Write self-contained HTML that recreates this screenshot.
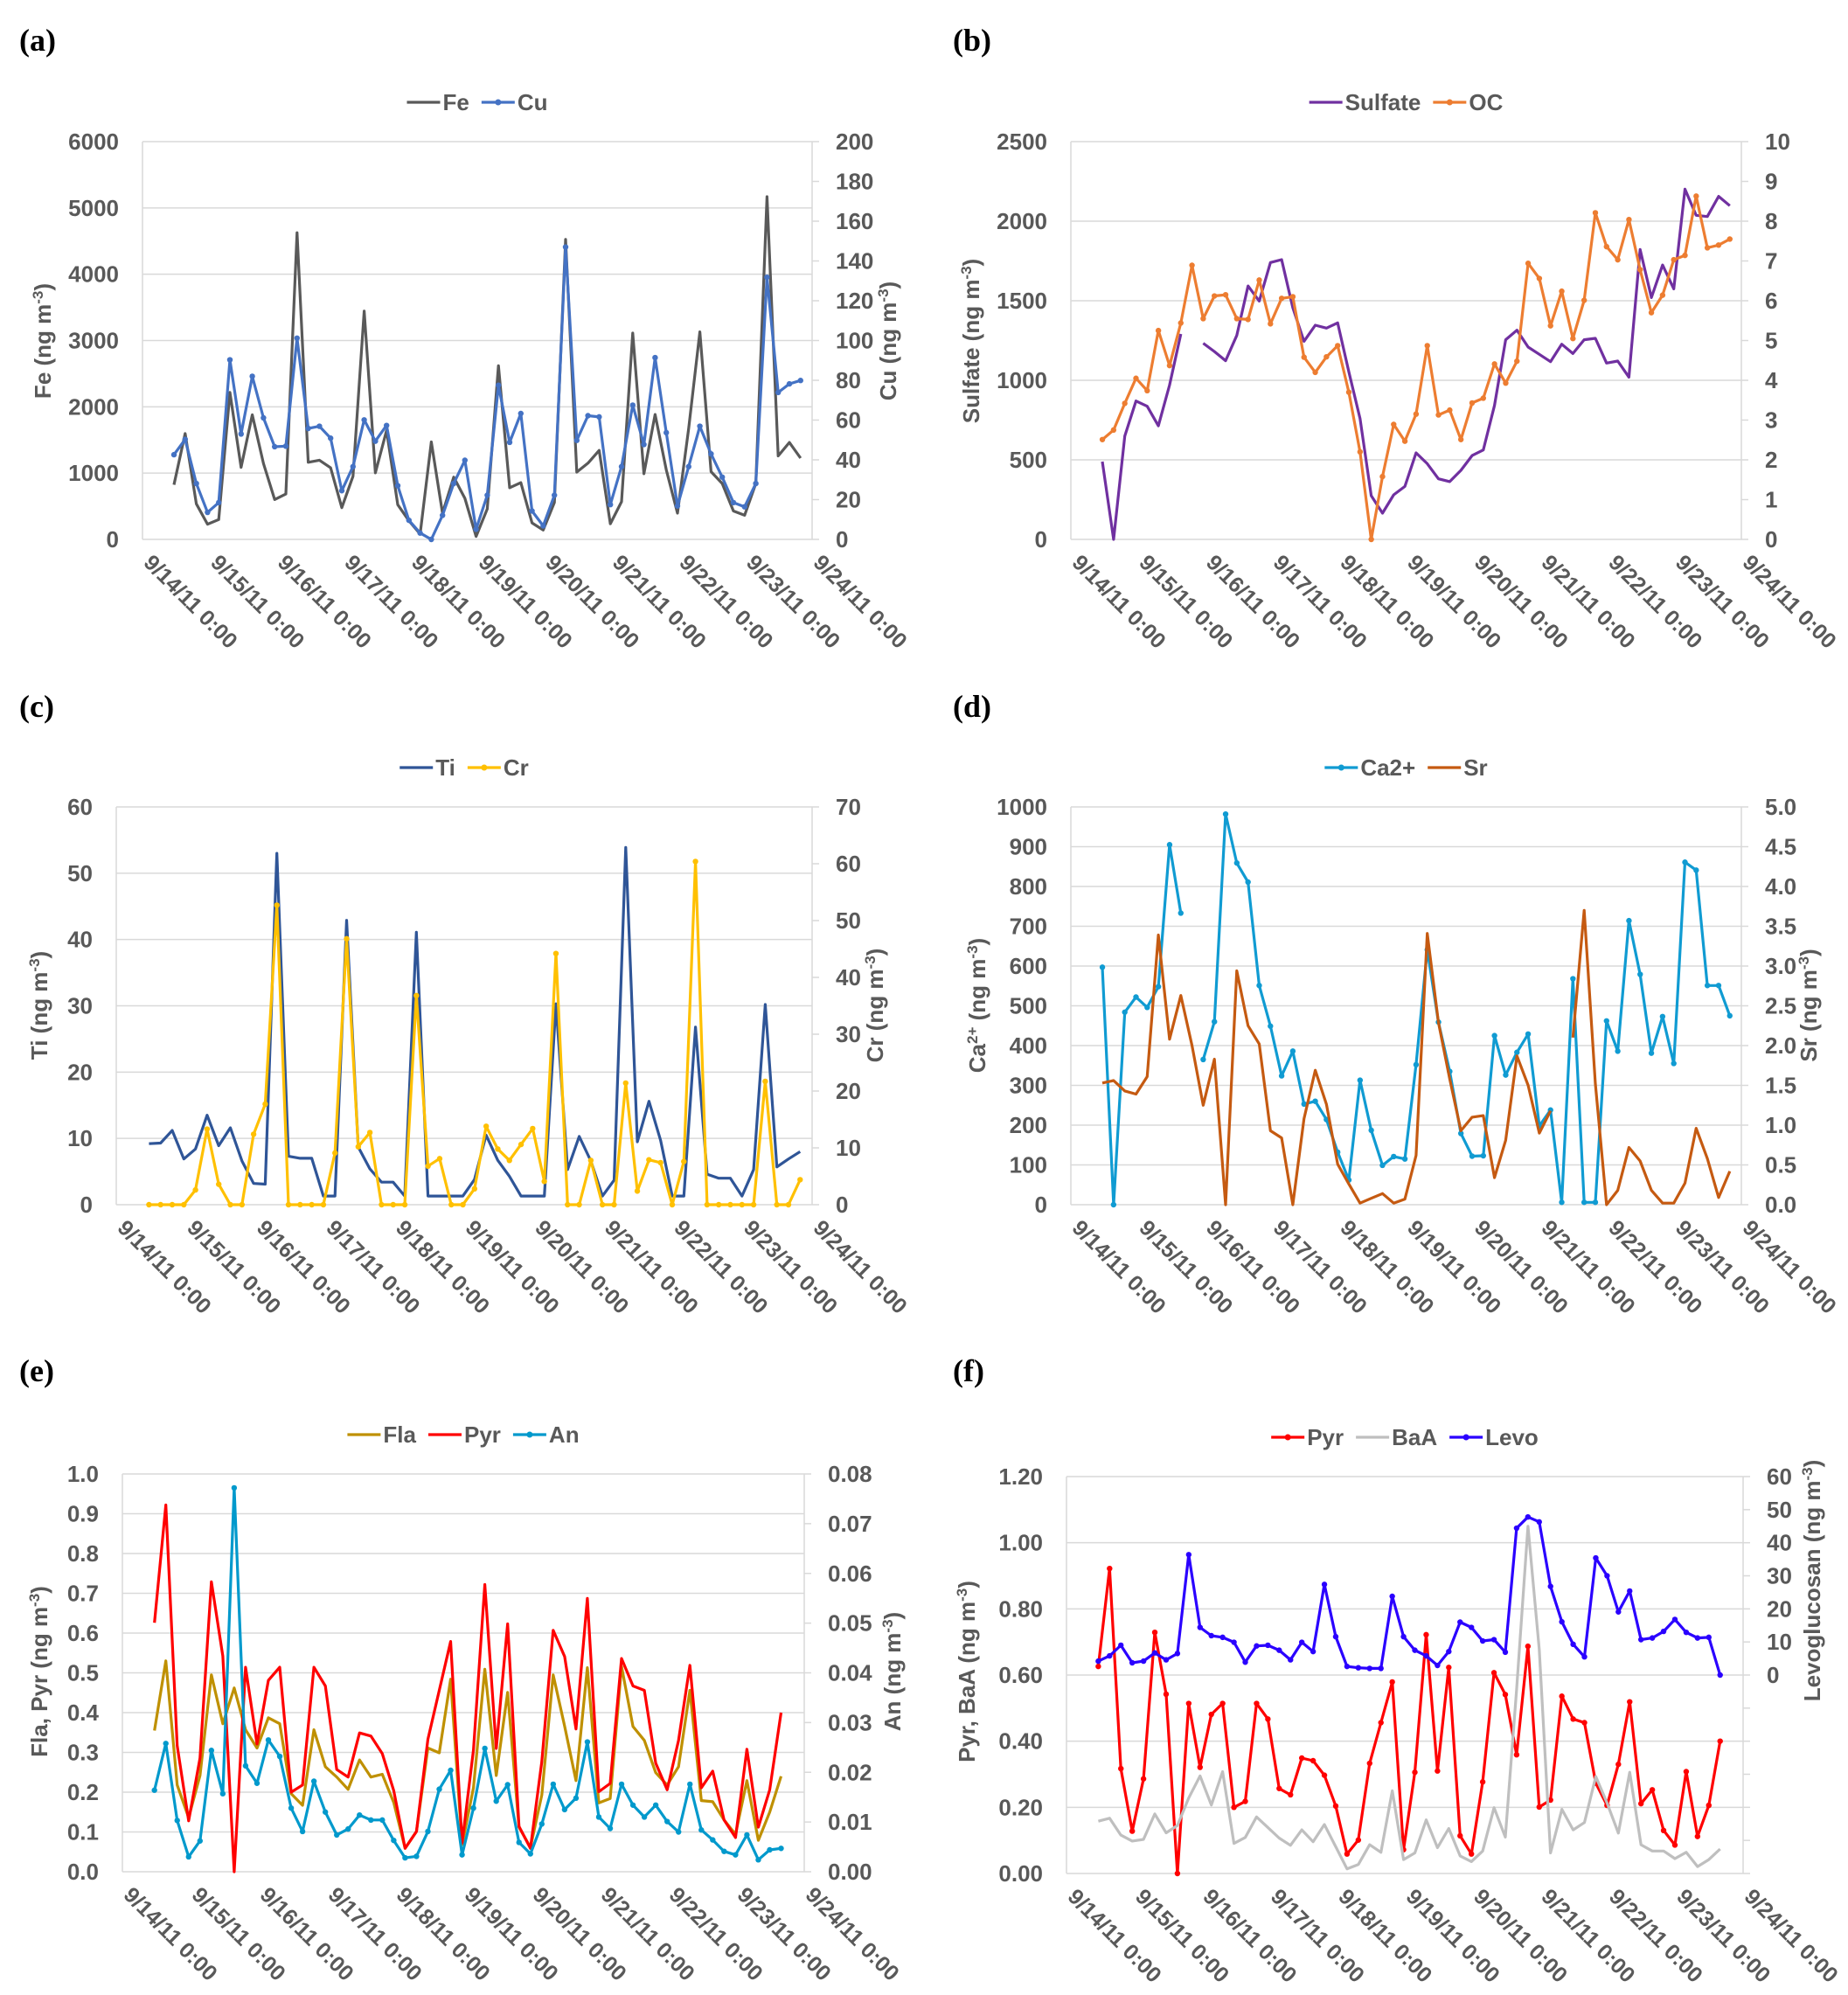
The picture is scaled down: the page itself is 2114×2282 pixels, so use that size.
<!DOCTYPE html>
<html><head><meta charset="utf-8"><style>
html,body{margin:0;padding:0;background:#fff;}
svg{display:block;}
text{font-family:"Liberation Sans",sans-serif;}
text.serif{font-family:"Liberation Serif",serif;}
</style></head><body>
<svg id="root" xmlns="http://www.w3.org/2000/svg" width="2114" height="2282" viewBox="0 0 2114 2282"></svg>
<script>
const dateLabels = ["9/14/11 0:00","9/15/11 0:00","9/16/11 0:00","9/17/11 0:00","9/18/11 0:00","9/19/11 0:00","9/20/11 0:00","9/21/11 0:00","9/22/11 0:00","9/23/11 0:00","9/24/11 0:00"];
const feVals = [824,1597,537,230,300,2217,1086,1879,1144,601,684,4626,1163,1195,1080,479,952,3444,1003,1642,524,281,80,1470,396,939,620,45,460,2620,780,856,249,141,556,4524,1016,1150,1342,236,569,3112,990,1885,1048,396,1674,3131,1022,843,428,364,843,5169,1259,1463,1227];
const cuVals = [42.6,50.3,28.1,13.6,18.5,90.3,53.0,82.0,61.1,46.6,46.9,101.2,55.8,56.9,50.9,24.5,36.6,60.1,49.4,57.3,27.0,9.6,3.2,0,12.1,28.1,39.8,5.1,22.2,77.5,48.8,63.3,14.3,6.8,22.2,147,49.8,62.2,61.6,17.5,36.6,67.5,47.7,91.4,53.7,16.8,36.6,56.9,43.0,31.3,18.5,16.4,28.1,131.8,73.9,78.2,79.9];
const sulfateVals = [489,0,650,870,837,714,970,1291,null,1233,1181,1123,1282,1593,1498,1740,1758,1456,1245,1346,1328,1361,1053,760,275,165,280,333,544,476,381,363,434,527,562,842,1255,1315,1209,1163,1117,1227,1168,1255,1264,1108,1121,1020,1822,1520,1725,1575,2201,2037,2029,2156,2097];
const ocVals = [2.51,2.75,3.42,4.05,3.74,5.25,4.37,5.44,6.89,5.55,6.12,6.15,5.55,5.53,6.52,5.42,6.06,6.10,4.58,4.20,4.59,4.87,3.70,2.20,0,1.58,2.89,2.47,3.15,4.87,3.13,3.25,2.51,3.43,3.55,4.41,3.93,4.48,6.94,6.56,5.37,6.24,5.05,6.01,8.21,7.36,7.03,8.04,6.78,5.70,6.14,7.03,7.14,8.63,7.33,7.40,7.55];
const tiVals = [9.2,9.3,11.2,6.9,8.4,13.5,8.9,11.6,6.6,3.2,3.1,53,7.3,7.0,7.0,1.3,1.3,42.9,8.7,5.4,3.4,3.4,1.3,41.1,1.3,1.3,1.3,1.3,3.8,10.5,6.7,4.3,1.3,1.3,1.3,30.3,5.3,10.3,6.6,1.3,3.7,53.9,9.5,15.6,9.7,1.3,1.3,26.8,4.6,4.0,4.0,1.3,5.3,30.2,5.7,6.9,8.0];
const crVals = [0,0,0,0,2.6,13.3,3.6,0,0,12.4,17.7,52.7,0,0,0,0,9.1,46.8,10.2,12.7,0,0,0,36.8,6.8,8.1,0,0,2.8,13.8,9.8,7.8,10.6,13.4,4.1,44.2,0,0,7.8,0,0,21.4,2.4,7.9,7.4,0,7.6,60.4,0,0,0,0,0,21.7,0,0,4.4];
const caVals = [597,0,484,522,496,548,905,733,null,365,460,982,859,811,551,449,324,386,253,260,214,132,62,313,187,99,121,115,352,641,459,335,179,122,123,425,326,383,429,198,238,6,568,6,6,462,386,714,579,381,473,355,861,841,551,551,475];
const srVals = [1.53,1.56,1.43,1.39,1.61,3.39,2.08,2.63,2.0,1.25,1.83,0,2.94,2.25,2.02,0.93,0.84,0,1.08,1.69,1.26,0.51,0.26,0.02,0.08,0.14,0.02,0.07,0.62,3.41,2.29,1.58,0.93,1.10,1.12,0.34,0.81,1.87,1.50,0.90,1.18,null,2.10,3.70,1.52,0,0.18,0.72,0.55,0.18,0.02,0.02,0.27,0.96,0.58,0.09,0.42];
const flaVals = [0.355,0.530,0.218,0.136,0.242,0.495,0.372,0.462,0.357,0.311,0.387,0.372,0.196,0.167,0.357,0.264,0.238,0.207,0.281,0.238,0.245,0.174,0.059,0.101,0.311,0.299,0.484,0.068,0.211,0.509,0.242,0.451,0.112,0.061,0.193,0.495,0.366,0.229,0.513,0.173,0.184,0.516,0.365,0.330,0.249,0.218,0.264,0.456,0.179,0.176,0.130,0.094,0.229,0.079,0.150,0.240];
const pyrVals = [0.626,0.922,0.317,0.128,0.286,0.729,0.542,0,0.514,0.321,0.481,0.514,0.200,0.218,0.514,0.467,0.257,0.238,0.349,0.341,0.297,0.204,0.059,0.101,0.333,0.456,0.579,0.072,0.306,0.722,0.310,0.623,0.114,0.059,0.277,0.607,0.541,0.359,0.687,0.201,0.222,0.536,0.467,0.456,0.273,0.206,0.330,0.519,0.211,0.253,0.130,0.086,0.308,0.112,0.206,0.400];
const anVals = [0.0164,0.0258,0.0103,0.0030,0.0062,0.0244,0.0157,0.0772,0.0213,0.0178,0.0265,0.0232,0.0128,0.0081,0.0182,0.0120,0.0074,0.0086,0.0114,0.0104,0.0104,0.0063,0.0028,0.0031,0.0081,0.0166,0.0204,0.0034,0.0128,0.0248,0.0142,0.0175,0.0059,0.0036,0.0096,0.0176,0.0125,0.0148,0.0261,0.0110,0.0087,0.0176,0.0134,0.0110,0.0134,0.0101,0.0080,0.0176,0.0084,0.0064,0.0041,0.0034,0.0074,0.0024,0.0044,0.0047];
const pyrFVals = [0.626,0.922,0.317,0.128,0.286,0.729,0.542,0,0.514,0.321,0.481,0.514,0.200,0.218,0.514,0.467,0.257,0.238,0.349,0.341,0.297,0.204,0.059,0.101,0.333,0.456,0.579,0.072,0.306,0.722,0.310,0.623,0.114,0.059,0.277,0.607,0.541,0.359,0.687,0.201,0.222,0.536,0.467,0.456,0.273,0.206,0.330,0.519,0.211,0.253,0.130,0.086,0.308,0.112,0.206,0.400];
const baaVals = [0.158,0.167,0.116,0.098,0.103,0.180,0.123,0.145,0.228,0.295,0.207,0.308,0.091,0.109,0.171,0.139,0.107,0.085,0.132,0.096,0.148,0.081,0.014,0.027,0.087,0.064,0.250,0.042,0.062,0.162,0.078,0.136,0.053,0.036,0.068,0.199,0.110,0.556,1.05,0.678,0.062,0.194,0.132,0.154,0.293,0.213,0.122,0.306,0.087,0.068,0.068,0.045,0.064,0.021,0.042,0.074];
const levoVals = [4.2,5.8,9.0,3.7,4.2,6.7,4.6,6.5,36.4,14.4,11.9,11.4,9.9,3.9,8.8,9.0,7.5,4.6,9.9,7.1,27.4,11.6,2.6,2.2,2.0,2.0,23.8,11.6,7.5,5.8,2.9,7.1,16.0,14.4,10.3,10.7,6.9,44.4,47.8,46.3,26.8,16.1,9.3,5.5,35.4,30.0,19.1,25.4,10.7,11.2,13.2,16.8,12.9,11.2,11.4,0];

const NS = "http://www.w3.org/2000/svg";
const root = document.getElementById('root');
function mk(tag, attrs, parent){
  const e = document.createElementNS(NS, tag);
  for (const k in attrs) e.setAttribute(k, attrs[k]);
  (parent || root).appendChild(e);
  return e;
}
const TXT = '#595959';

// parts: array of [text, isSuper]
function title(g, x, y, parts, nm){
  const t = mk('text', {x:0, y:0, transform:`translate(${x},${y}) rotate(-90)`, 'text-anchor':'middle', 'font-size':26, 'font-weight':'bold', fill:TXT}, g);
  
  
  parts.forEach(pt => {
    const s = mk('tspan', pt[1] ? {'baseline-shift':'super','font-size':17} : {'baseline-shift':'0'}, t);
    s.textContent = pt[0];
  });
}

function panel(p){
  const g = mk('g', {});
  
  
  const lab = mk('text', {x:p.ox+22, y:p.oy+58, class:'serif', 'font-size':36, 'font-weight':'bold', fill:'#000'}, g);
  
  
  lab.textContent = '(' + p.id + ')';
  const L=p.L, R=p.R, T=p.T, B=p.B;
  const yl = v => B - (v - p.lmin)/(p.lmax - p.lmin)*(B-T);
  const yr = v => B - (v - p.rmin)/(p.rmax - p.rmin)*(B-T);
  const xd = d => L + d/10*(R-L);
  const xi = i => L + (0.047 + 0.01671*i)*(R-L);
  for (let v=p.lmin; v<=p.lmax+1e-9; v+=p.lstep){
    const y = yl(v);
    const gl = mk('line', {x1:L, x2:R, y1:y, y2:y, stroke:'#d9d9d9', 'stroke-width':1.5}, g);
    
    
    const t = mk('text', {x:L-27, y:y+9, 'text-anchor':'end', 'font-size':26, 'font-weight':'bold', fill:TXT}, g);
    
    
    t.textContent = v.toFixed(p.ldec);
  }
  mk('line', {x1:L, x2:L, y1:T, y2:B, stroke:'#d9d9d9', 'stroke-width':1.5}, g);
  mk('line', {x1:R, x2:R, y1:T, y2:B, stroke:'#d9d9d9', 'stroke-width':1.5}, g);
  for (let v=p.rmin; v<=p.rmax+1e-9; v+=p.rstep){
    const y = yr(v);
    mk('line', {x1:R, x2:R+8, y1:y, y2:y, stroke:'#d9d9d9', 'stroke-width':1.5}, g);
    if (v < -1e-9) continue;
    const t = mk('text', {x:R+27, y:y+9, 'text-anchor':'start', 'font-size':26, 'font-weight':'bold', fill:TXT}, g);
    
    
    t.textContent = (Math.abs(v)<1e-9?0:v).toFixed(p.rdec);
  }
  dateLabels.forEach((s, d) => {
    const x = xd(d), y = B + 28;
    const t = mk('text', {x:0, y:0, transform:`translate(${x},${y}) rotate(45)`, 'font-size':25, 'font-weight':'bold', fill:TXT}, g);
    
    
    t.textContent = s;
  });
  p.series.forEach(s => {
    const sc = s.axis === 'r' ? yr : yl;
    let d = '', pen = false;
    s.vals.forEach((v, i) => {
      if (v === null || v === undefined){ pen = false; return; }
      d += (pen ? 'L' : 'M') + xi(i).toFixed(1) + ' ' + sc(v).toFixed(1) + ' ';
      pen = true;
    });
    const path = mk('path', {d:d, fill:'none', stroke:s.color, 'stroke-width':3.2, 'stroke-linejoin':'round'}, g);
    
    
    if (s.marker){
      s.vals.forEach((v, i) => {
        if (v === null || v === undefined) return;
        const c = mk('circle', {cx:xi(i), cy:sc(v), r:3.2, fill:s.color}, g);
        
        
      });
    }
  });
  const lg = mk('g', {}, g);
  
  
  let cx = 0;
  const ly = T - 45;
  p.series.forEach(s => {
    const it = mk('g', {}, lg);
    
    
    mk('line', {x1:cx, x2:cx+38, y1:ly, y2:ly, stroke:s.color, 'stroke-width':3.2}, it);
    if (s.marker) mk('circle', {cx:cx+19, cy:ly, r:3.5, fill:s.color}, it);
    const t = mk('text', {x:cx+41, y:ly+9, 'font-size':26, 'font-weight':'bold', fill:TXT}, it);
    t.textContent = s.name;
    cx += 41 + t.getComputedTextLength() + 14;
  });
  const w = cx - 14;
  lg.setAttribute('transform', `translate(${(L+R)/2 - w/2},0)`);
  title(g, p.lt[0], p.lt[1], p.lt[2], 'y-axis-title');
  if (p.rt) title(g, p.rt[0], p.rt[1], p.rt[2], 'y2-axis-title');
}
const U = (name) => [[name + ' (ng m', false], ['-3', true], [')', false]];

panel({id:'a', ox:0, oy:0, L:163, R:929, T:162, B:617, lmin:0, lmax:6000, lstep:1000, ldec:0, rmin:0, rmax:200, rstep:20, rdec:0,
  lt:[58,390,U('Fe')], rt:[1025,390,U('Cu')],
  series:[{name:'Fe', vals:feVals, color:'#595959', axis:'l', marker:false},{name:'Cu', vals:cuVals, color:'#4472C4', axis:'r', marker:true}]});
panel({id:'b', ox:1068, oy:0, L:1225, R:1992, T:162, B:617, lmin:0, lmax:2500, lstep:500, ldec:0, rmin:0, rmax:10, rstep:1, rdec:0,
  lt:[1120,390,U('Sulfate')], rt:null,
  series:[{name:'Sulfate', vals:sulfateVals, color:'#7030A0', axis:'l', marker:false},{name:'OC', vals:ocVals, color:'#ED7D31', axis:'r', marker:true}]});
panel({id:'c', ox:0, oy:762, L:133, R:929, T:923, B:1378, lmin:0, lmax:60, lstep:10, ldec:0, rmin:0, rmax:70, rstep:10, rdec:0,
  lt:[54,1150,U('Ti')], rt:[1010,1150,U('Cr')],
  series:[{name:'Ti', vals:tiVals, color:'#2F5597', axis:'l', marker:false},{name:'Cr', vals:crVals, color:'#FFC000', axis:'r', marker:true}]});
panel({id:'d', ox:1068, oy:762, L:1225, R:1992, T:923, B:1378, lmin:0, lmax:1000, lstep:100, ldec:0, rmin:0, rmax:5, rstep:0.5, rdec:1,
  lt:[1127,1150,[['Ca',false],['2+',true],[' (ng m',false],['-3',true],[')',false]]], rt:[2078,1150,U('Sr')],
  series:[{name:'Ca2+', vals:caVals, color:'#109BD2', axis:'l', marker:true},{name:'Sr', vals:srVals, color:'#C55A11', axis:'r', marker:false}]});
panel({id:'e', ox:0, oy:1522, L:140, R:920, T:1686, B:2141, lmin:0, lmax:1.0, lstep:0.1, ldec:1, rmin:0, rmax:0.08, rstep:0.01, rdec:2,
  lt:[54,1912,U('Fla, Pyr')], rt:[1030,1912,U('An')],
  series:[{name:'Fla', vals:flaVals, color:'#BF9000', axis:'l', marker:false},{name:'Pyr', vals:pyrVals, color:'#FF0000', axis:'l', marker:false},{name:'An', vals:anVals, color:'#0099CC', axis:'r', marker:true}]});
panel({id:'f', ox:1068, oy:1522, L:1220, R:1994, T:1689, B:2143, lmin:0, lmax:1.2, lstep:0.2, ldec:2, rmin:-60, rmax:60, rstep:10, rdec:0,
  lt:[1115,1912,U('Pyr, BaA')], rt:[2082,1808,U('Levoglucosan')],
  series:[{name:'Pyr', vals:pyrFVals, color:'#FF0000', axis:'l', marker:true},{name:'BaA', vals:baaVals, color:'#BFBFBF', axis:'l', marker:false},{name:'Levo', vals:levoVals, color:'#2A00FF', axis:'r', marker:true}]});
</script>
</body></html>
